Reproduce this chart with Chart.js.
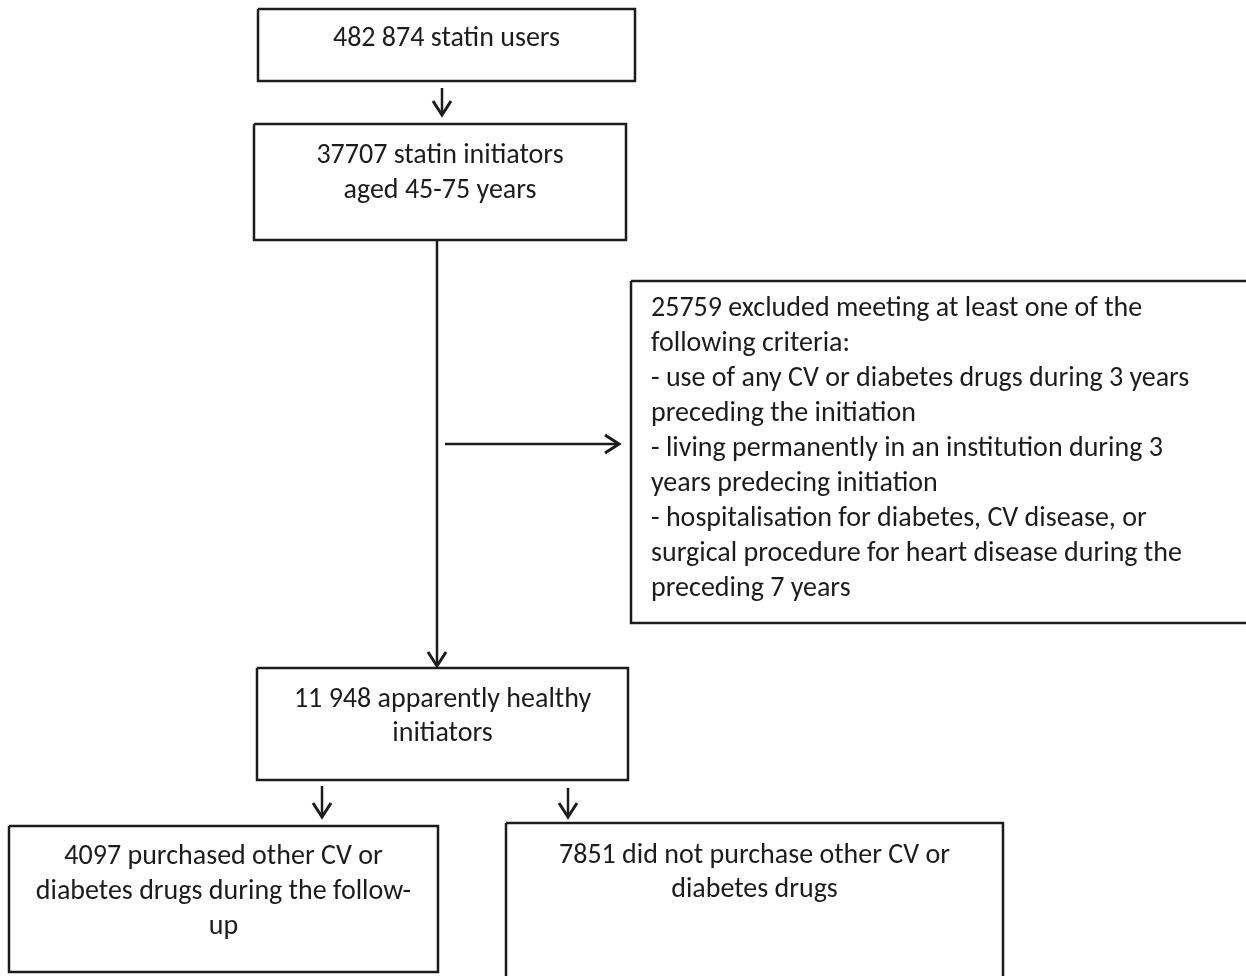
<!DOCTYPE html>
<html>
<head>
<meta charset="utf-8">
<script src="https://cdn.jsdelivr.net/npm/chart.js@4.4.0/dist/chart.umd.min.js"></script>
<style>
  html, body { margin: 0; padding: 0; background: #fff; }
  #wrap { width: 1246px; height: 976px; }
</style>
</head>
<body>
<div id="wrap"><canvas id="flow"></canvas></div>
<script>
// box texts (one entry per line)
const boxTexts = [
    ["482 874 statin users"],
    ["37707 statin initiators", "aged 45-75 years"],
    ["25759 excluded meeting at least one of the", "following criteria:",
     "- use of any CV or diabetes drugs during 3 years", "preceding the initiation",
     "- living permanently in an institution during 3", "years predecing initiation",
     "- hospitalisation for diabetes, CV disease, or",
     "surgical procedure for heart disease during the", "preceding 7 years"],
    ["11 948 apparently healthy", "initiators"],
    ["4097 purchased other CV or", "diabetes drugs during the follow-", "up"],
    ["7851 did not purchase other CV or", "diabetes drugs"],
];

// box layout: [left, top, right, bottom, first text line, line step, align]
const boxLayout = [
    [258, 9, 635, 81, 39, 35, "center"],
    [254, 124, 626, 240, 156, 35, "center"],
    [631, 281, 1262, 623, 309, 35, "left"],
    [257, 668, 628, 780, 700, 34, "center"],
    [9, 826, 438, 972, 857, 35, "center"],
    [506, 823, 1003, 990, 856, 34, "center"],
];

// connectors: [x1, y1, x2, y2]
const connectors = [
    [442, 88, 442, 115],
    [437, 240, 437, 666],
    [445, 444, 619, 444],
    [322, 786, 322, 817],
    [568, 788, 568, 817],
];

const INK = "#1c1c1c";
const FONT = "Carlito, Lato, 'Open Sans', sans-serif";

function boxPath(b) {
    return [
        { x: b[0], y: b[1] }, { x: b[2], y: b[1] },
        { x: b[2], y: b[3] }, { x: b[0], y: b[3] }, { x: b[0], y: b[1] },
    ];
}

function headPath(c) {
    const dx = c[2] - c[0], dy = c[3] - c[1];
    const len = Math.hypot(dx, dy);
    const ux = dx / len, uy = dy / len;
    const back = 14, side = 9;
    return [
        { x: c[2] - ux * back - uy * side, y: c[3] - uy * back + ux * side },
        { x: c[2], y: c[3] },
        { x: c[2] - ux * back + uy * side, y: c[3] - uy * back - ux * side },
    ];
}

const lineStyle = {
    type: "line",
    borderColor: INK,
    borderWidth: 2.5,
    pointRadius: 0,
    tension: 0,
    fill: false,
};

const datasets = [];
boxLayout.forEach((b) => datasets.push({ ...lineStyle, data: boxPath(b) }));
connectors.forEach((c) => {
    datasets.push({ ...lineStyle, data: [{ x: c[0], y: c[1] }, { x: c[2], y: c[3] }] });
    datasets.push({ ...lineStyle, borderWidth: 3, data: headPath(c) });
});

const boxLabels = {
    id: "boxLabels",
    afterDatasetsDraw(chart) {
        const ctx = chart.ctx;
        const xs = chart.scales.x, ys = chart.scales.y;
        ctx.save();
        ctx.fillStyle = INK;
        ctx.font = "28px " + FONT;
        ctx.textBaseline = "middle";
        boxTexts.forEach((lines, i) => {
            const b = boxLayout[i];
            lines.forEach((t, k) => {
                const y = ys.getPixelForValue(b[4] + k * b[5]);
                if (b[6] === "left") {
                    ctx.textAlign = "left";
                    ctx.fillText(t, xs.getPixelForValue(b[0] + 20), y);
                } else {
                    ctx.textAlign = "center";
                    ctx.fillText(t, xs.getPixelForValue((b[0] + b[2]) / 2), y);
                }
            });
        });
        ctx.restore();
    },
};

new Chart(document.getElementById("flow"), {
    type: "scatter",
    data: { datasets: datasets },
    options: {
        responsive: true,
        maintainAspectRatio: false,
        animation: false,
        layout: { padding: 0 },
        scales: {
            x: { type: "linear", min: 0, max: 1246, display: false },
            y: { type: "linear", min: 0, max: 976, reverse: true, display: false },
        },
        plugins: {
            legend: { display: false },
            tooltip: { enabled: false },
        },
    },
    plugins: [boxLabels],
});
</script>
</body>
</html>
